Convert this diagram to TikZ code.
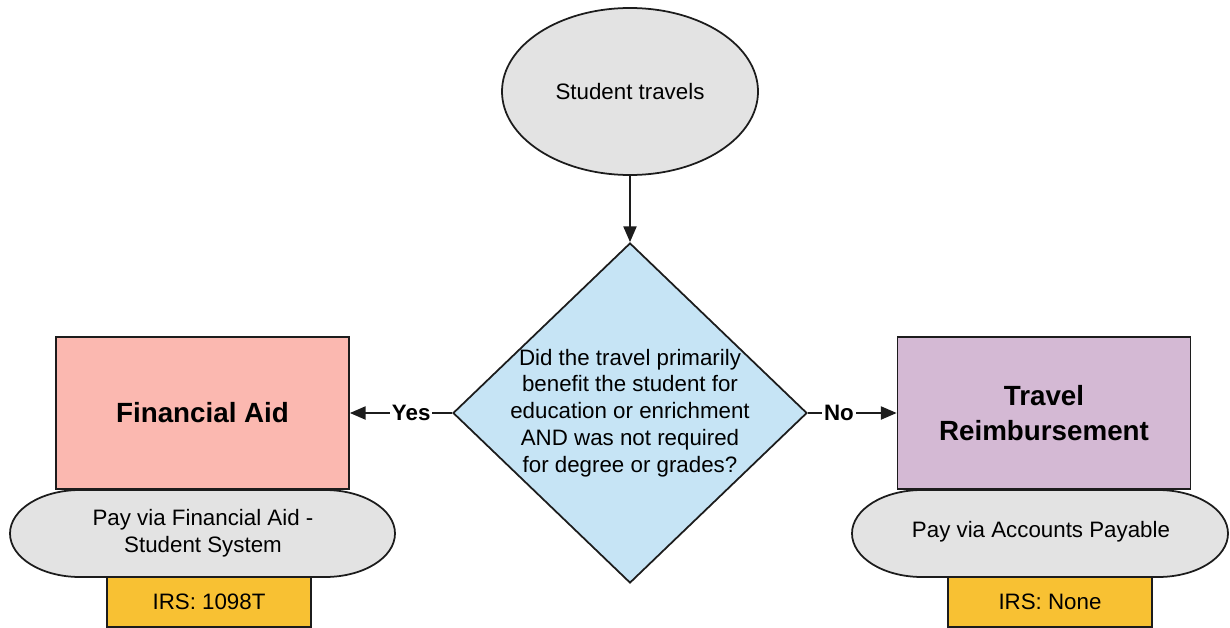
\documentclass[tikz,border=0pt]{standalone}
\usepackage{fontspec}
\setmainfont{Liberation Sans}
\usetikzlibrary{shapes.geometric,arrows.meta}

\definecolor{startgray}{HTML}{E3E3E3}
\definecolor{qblue}{HTML}{C6E4F5}
\definecolor{aidpink}{HTML}{FBB8B0}
\definecolor{travlilac}{HTML}{D4B9D4}
\definecolor{irsyellow}{HTML}{F8C133}
\definecolor{edgeblack}{HTML}{1C1C1C}

\tikzset{
  base/.style={draw=edgeblack, line width=1pt, font=\fontsize{12.7}{15.3}\selectfont},
  startnode/.style={base, ellipse, fill=startgray, minimum width=5.12cm, minimum height=3.34cm},
  decision/.style={base, diamond, fill=qblue, minimum width=7.08cm, minimum height=6.8cm, inner sep=0pt},
  qtext/.style={align=center, font=\fontsize{12.7}{15.3}\selectfont},
  outcome/.style={base, rectangle, minimum width=5.86cm, minimum height=3.04cm, align=center,
    font=\fontsize{15.8}{19.8}\selectfont\bfseries},
  pill/.style={draw=edgeblack, line width=1pt, fill=startgray},
  paytext/.style={align=center, font=\fontsize{12.7}{15.3}\selectfont},
  irsbox/.style={base, rectangle, fill=irsyellow, minimum width=4.08cm, minimum height=1cm},
  flow/.style={draw=edgeblack, line width=1pt, -{Triangle[length=9pt,width=7.5pt]}},
  edgelbl/.style={fill=white, inner sep=1pt, font=\fontsize{12.7}{15.3}\selectfont\bfseries}
}

\begin{document}
\begin{tikzpicture}
  \useasboundingbox (0,0) rectangle (24.6,-12.56);

  % start and question
  \node[startnode] (start) at (12.6,-1.83) {Student travels};
  \node[decision, label={[qtext]center:{Did the travel primarily\\benefit the student for\\education or enrichment\\AND was not required\\for degree or grades?}}] (question) at (12.6,-8.26) {};

  % outcomes
  \node[outcome, fill=aidpink] (finaid) at (4.05,-8.26) {Financial Aid};
  \node[outcome, fill=travlilac] (travel) at (20.88,-8.26) {Travel\\Reimbursement};

  % irs boxes
  \node[irsbox] (irsaid) at (4.18,-12.04) {IRS: 1098T};
  \node[irsbox] (irstravel) at (21.0,-12.04) {IRS: None};

  % payment pills
  \draw[pill] (1.6,-9.8) -- (6.5,-9.8)
    arc[start angle=90, end angle=-90, x radius=1.4, y radius=0.87] -- (1.6,-11.54)
    arc[start angle=270, end angle=90, x radius=1.4, y radius=0.87] -- cycle;
  \node[paytext] (payaid) at (4.06,-10.67) {Pay via Financial Aid -\\Student System};
  \draw[pill] (18.44,-9.8) -- (23.16,-9.8)
    arc[start angle=90, end angle=-90, x radius=1.4, y radius=0.87] -- (18.44,-11.54)
    arc[start angle=270, end angle=90, x radius=1.4, y radius=0.87] -- cycle;
  \node[paytext] (paytravel) at (20.82,-10.64) {Pay via Accounts Payable};

  % connectors
  \draw[flow] (start) -- (question);
  \draw[flow] (question.west) -- node[edgelbl, pos=0.4] {Yes} (finaid.east);
  \draw[flow] (question.east) -- node[edgelbl, pos=0.35] {No} (travel.west);
\end{tikzpicture}
\end{document}
